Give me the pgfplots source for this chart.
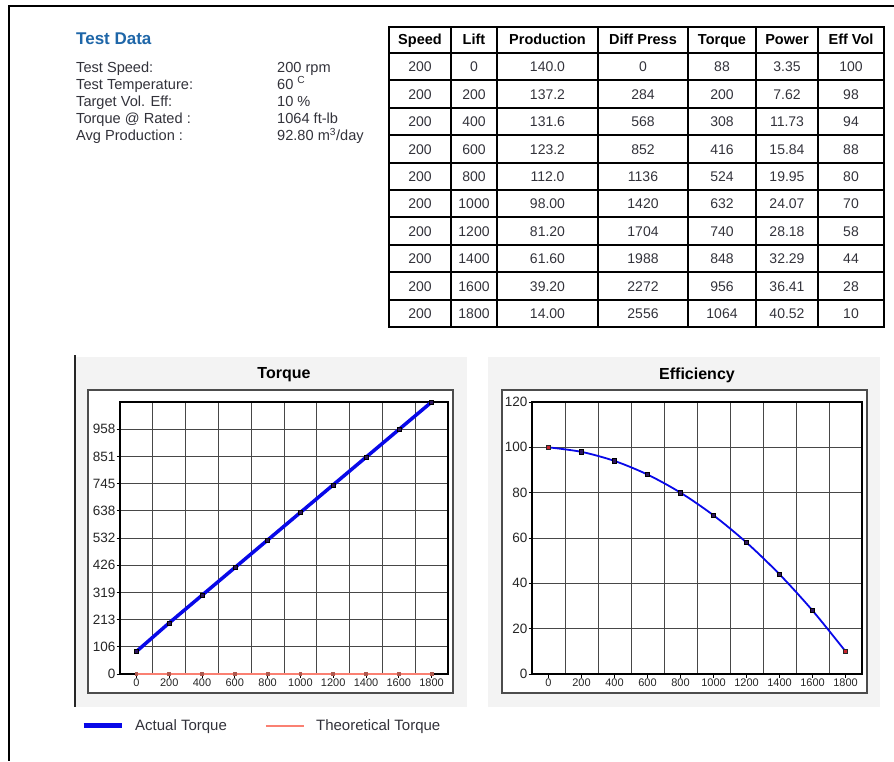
\documentclass[border=0pt]{standalone}
\usepackage{fontspec}
\setmainfont{Liberation Sans}
\usepackage{pgfplots}
\usepackage{pgfplotstable}
\pgfplotsset{compat=1.18}

\definecolor{headblue}{RGB}{30,102,168}
\definecolor{textgray}{RGB}{50,50,58}
\definecolor{panelgray}{RGB}{243,243,243}
\definecolor{actualblue}{RGB}{8,8,232}
\definecolor{theosalmon}{RGB}{250,128,114}
\definecolor{marknavy}{RGB}{45,20,95}
\definecolor{markred}{RGB}{200,35,45}

\newcommand\fs[1]{\fontsize{#1}{#1}\selectfont}

% lift, actual torque, theoretical torque, volumetric efficiency
\pgfplotstableread{
lift torque theo eff
0    88    0 100
200  200   0 98
400  308   0 94
600  416   0 88
800  524   0 80
1000 632   0 70
1200 740   0 58
1400 848   0 44
1600 956   0 28
1800 1064  0 10
}\testdata

\pgfplotsset{
  panel/.style={
    scale only axis, anchor=south west, height=272pt,
    xmin=-100, xmax=1900, ymin=0,
    clip=false,
    axis line style={black, line width=1.2pt},
    xtick={0,200,...,1800},
    xticklabels={0,200,400,600,800,1000,1200,1400,1600,1800},
    minor xtick={100,300,...,1700},
    xminorgrids=true, xmajorgrids=false, ymajorgrids=true,
    grid style={black!72, line width=0.9pt},
    minor grid style={black!72, line width=0.9pt},
    tick align=outside, xtick pos=bottom, ytick pos=left,
    major tick length=3.5pt, minor tick length=0pt,
    tick style={black, line width=0.9pt},
    xticklabel style={font=\fs{11}, text=black!85, inner sep=1.5pt},
    yticklabel style={font=\fs{13.5}, text=black!85, inner sep=1pt},
    title style={font=\fs{16}\bfseries, at={(0.5,1)}, anchor=center, yshift=21pt},
  },
}

\begin{document}
\begin{tikzpicture}[x=1pt,y=1pt]
\useasboundingbox (0,0) rectangle (894,-761);

% page frame
\draw[line width=2pt] (894,-6) -- (9,-6) -- (9,-761);

% test summary
\node[anchor=base west, inner sep=0, font=\fs{17}\bfseries, text=headblue] at (76,-44) {Test Data};
\begin{scope}[every node/.style={anchor=base west, inner sep=0, font=\fs{14.6}, text=textgray}]
\node at (76,-72.5) {Test Speed:};          \node at (277,-72.5) {200 rpm};
\node at (76,-89)   {Test Temperature:};    \node at (277,-89)   {60 \textsuperscript{C}};
\node at (76,-106)  {Target Vol. Eff:};     \node at (277,-106)  {10 \%};
\node at (76,-123)  {Torque @ Rated :};     \node at (277,-123)  {1064 ft-lb};
\node at (76,-140.5){Avg Production :};     \node at (277,-140.5){92.80 m\textsuperscript{3}/day};
\end{scope}

% results table
\foreach \xx in {389,451,497,598,688,756,818,884}
  \draw[line width=2pt] (\xx,-27) -- (\xx,-327);
\draw[line width=2pt] (388,-27) -- (885,-27);
\foreach \i in {0,...,10}
  \draw[line width=2pt] (388,{-(53+27.4*\i)}) -- (885,{-(53+27.4*\i)});
\begin{scope}[every node/.style={anchor=base, inner sep=0, font=\fs{14.5}\bfseries, text=black}]
\node at (420,-44.5) {Speed};
\node at (474,-44.5) {Lift};
\node at (547.5,-44.5) {Production};
\node at (643,-44.5) {Diff Press};
\node at (722,-44.5) {Torque};
\node at (787,-44.5) {Power};
\node at (851,-44.5) {Eff Vol};
\end{scope}
\begin{scope}[every node/.style={anchor=base, inner sep=0, font=\fs{14}, text=textgray}]
\foreach \i/\sp/\li/\pr/\dp/\tq/\pw/\ev in {
  0/200/0/140.0/0/88/3.35/100,
  1/200/200/137.2/284/200/7.62/98,
  2/200/400/131.6/568/308/11.73/94,
  3/200/600/123.2/852/416/15.84/88,
  4/200/800/112.0/1136/524/19.95/80,
  5/200/1000/98.00/1420/632/24.07/70,
  6/200/1200/81.20/1704/740/28.18/58,
  7/200/1400/61.60/1988/848/32.29/44,
  8/200/1600/39.20/2272/956/36.41/28,
  9/200/1800/14.00/2556/1064/40.52/10}{
  \pgfmathsetmacro\yb{-(71.8+27.4*\i)}
  \node at (420,\yb) {\sp};
  \node at (474,\yb) {\li};
  \node at (547.5,\yb) {\pr};
  \node at (643,\yb) {\dp};
  \node at (722,\yb) {\tq};
  \node at (787,\yb) {\pw};
  \node at (851,\yb) {\ev};
}
\end{scope}

% chart panels
\fill[panelgray] (75,-357) rectangle (467,-707);
\fill[panelgray] (488,-357) rectangle (880,-707);
\draw[line width=1.5pt, black!85] (75,-355) -- (75,-707);
\draw[black!70, line width=1.2pt, fill=white] (88,-390) rectangle (453,-693);
\draw[black!70, line width=1.2pt, fill=white] (502,-390) rectangle (867,-693);

% torque chart
\begin{axis}[panel, at={(120pt,-674pt)}, width=328pt,
  ymax=1064, title={Torque},
  ytick={0,106.4,212.8,319.2,425.6,532,638.4,744.8,851.2,957.6},
  yticklabels={0,106,213,319,426,532,638,745,851,958},
  legend style={at={(-0.119,-0.191)}, anchor=west, draw=none, fill=none,
    inner sep=0pt, font=\fs{15}, text=textgray, legend columns=2,
    /tikz/every odd column/.append style={column sep=9pt},
    /tikz/every even column/.append style={column sep=36pt}},
  legend cell align=left]
\addplot[actualblue, line width=3.5pt, mark=square*, mark size=2pt,
  mark options={fill=marknavy, draw=black, line width=0.6pt},
  legend image code/.code={\draw[actualblue, line width=5pt] (0pt,0pt) -- (38pt,0pt);}]
  table[x=lift, y=torque]{\testdata};
\addlegendentry{Actual Torque}
\addplot[theosalmon, line width=1.8pt, mark=square*, mark size=1pt,
  mark options={fill=theosalmon!70!black, draw=theosalmon!70!black},
  legend image code/.code={\draw[theosalmon, line width=2.2pt] (0pt,0pt) -- (38pt,0pt);}]
  table[x=lift, y=theo]{\testdata};
\addlegendentry{Theoretical Torque}
\end{axis}

% efficiency chart
\begin{axis}[panel, at={(532pt,-674pt)}, width=330pt,
  ymax=120, title={Efficiency},
  ytick={0,20,40,60,80,100,120},
  yticklabels={0,20,40,60,80,100,120}]
\addplot[actualblue, line width=1.8pt, smooth, mark=square*, mark size=2.2pt,
  mark indices={2,3,4,5,6,7,8,9},
  mark options={fill=marknavy, draw=black, line width=0.6pt}]
  table[x=lift, y=eff]{\testdata};
\addplot[only marks, mark=square*, mark size=2.2pt, mark indices={1,10},
  mark options={fill=markred, draw=black!85, line width=0.6pt}]
  table[x=lift, y=eff]{\testdata};
\end{axis}
\end{tikzpicture}
\end{document}
